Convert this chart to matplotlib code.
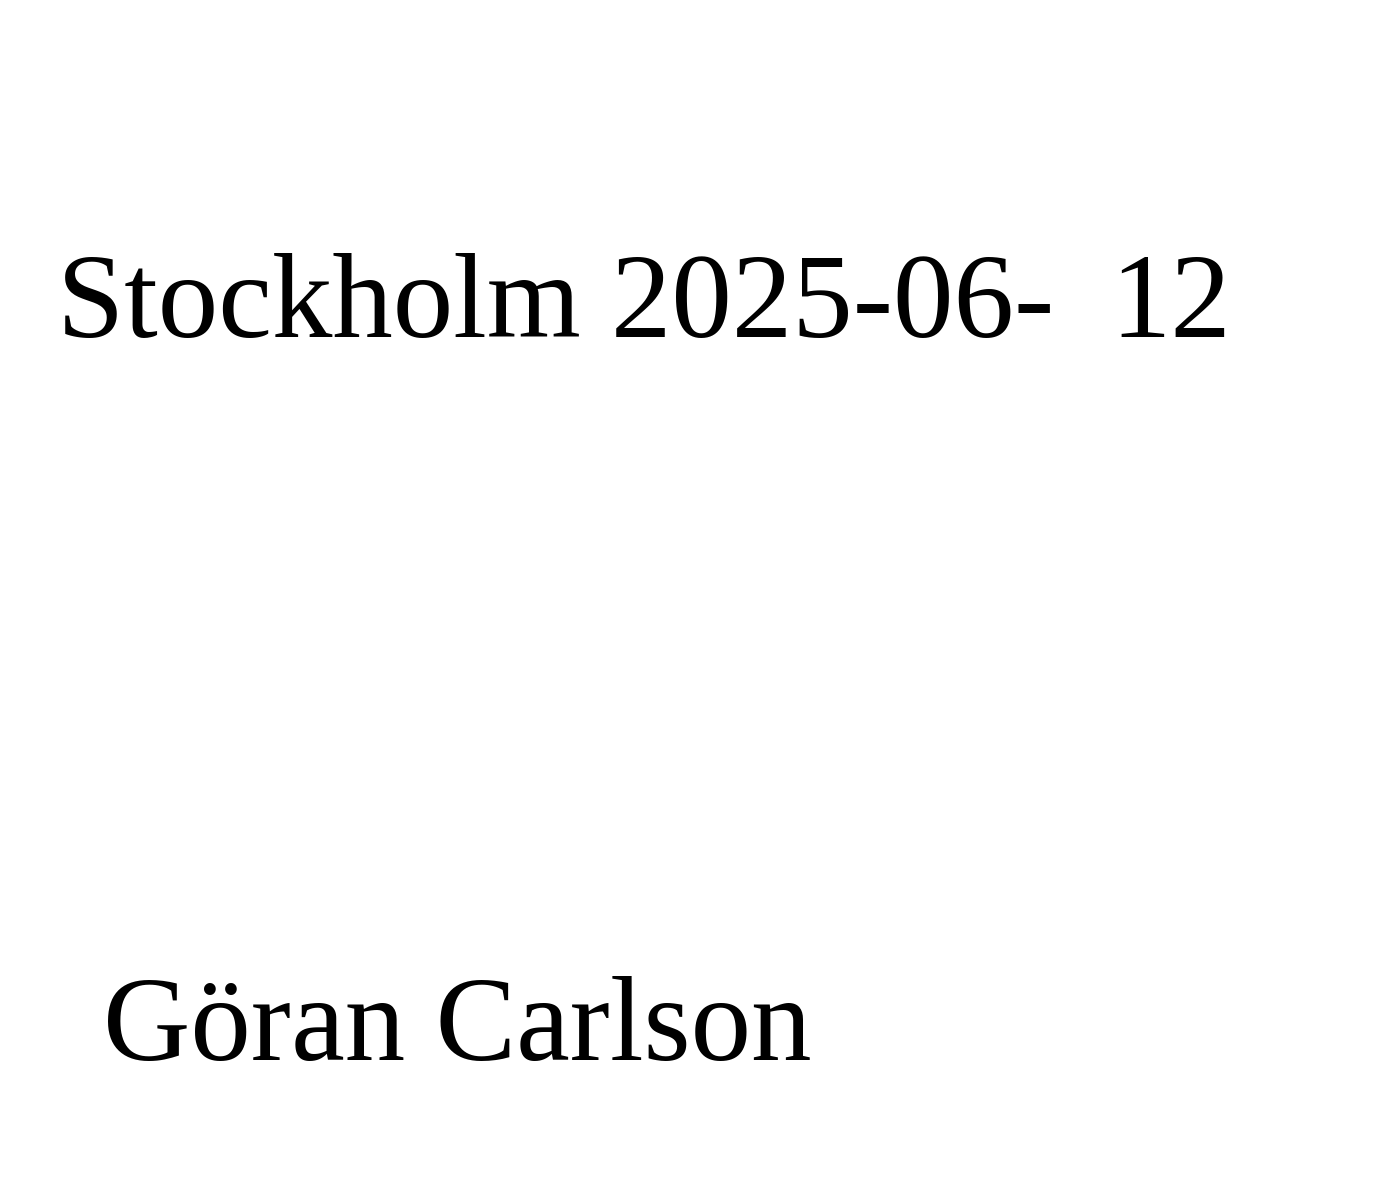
import matplotlib
matplotlib.use("Agg")
import matplotlib.pyplot as plt

# printed text of the signature block (the handwritten signature itself is left out)
place_date = "Stockholm 2025-06-"
day = "12"
name = "Göran Carlson"

W, H = 1399, 1179
fig = plt.figure(figsize=(W / 100, H / 100), dpi=100)
fig.patch.set_facecolor("white")

serif = ["Liberation Serif", "DejaVu Serif"]

fig.text(57 / W, 1 - 337 / H, place_date, family=serif, fontsize=87,
         ha="left", va="baseline", color="black")
fig.text(1110 / W, 1 - 337 / H, day, family=serif, fontsize=87,
         ha="left", va="baseline", color="black")
fig.text(103 / W, 1 - 1060 / H, name, family=serif, fontsize=87,
         ha="left", va="baseline", color="black")

fig.savefig("out.png", dpi=100, facecolor="white")
